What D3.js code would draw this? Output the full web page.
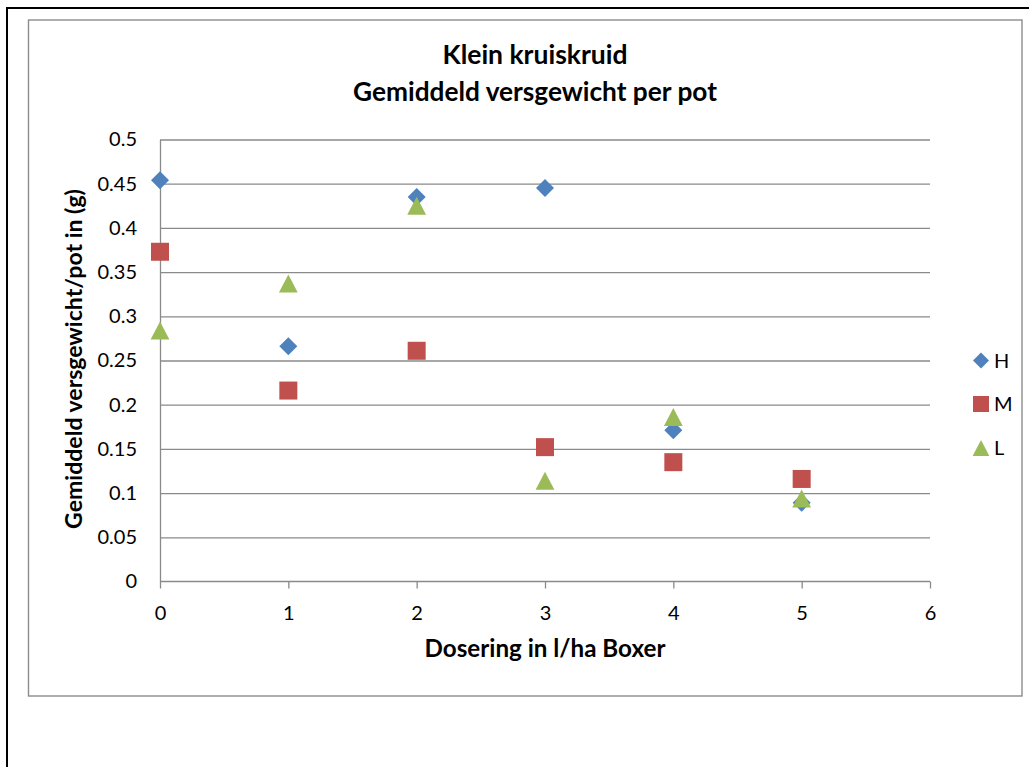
<!DOCTYPE html>
<html>
<head>
<meta charset="utf-8">
<script src="https://cdn.jsdelivr.net/npm/d3@7"></script>
<style>
  html, body { margin: 0; padding: 0; background: #fff; }
  svg { display: block; }
  text { font-family: Lato, "Open Sans", sans-serif; fill: #000; }
</style>
</head>
<body>
<svg id="chart" width="1029" height="767"></svg>
<script>
// ---- data ----
const doses = [0, 1, 2, 3, 4, 5];
const seriesNames = ["H", "M", "L"];
const valuesH = [0.454, 0.266, 0.435, 0.445, 0.171, 0.089];
const valuesM = [0.373, 0.216, 0.261, 0.152, 0.135, 0.116];
const valuesL = [0.284, 0.337, 0.425, 0.114, 0.186, 0.094];
const xTicks = [0, 1, 2, 3, 4, 5, 6];
const yTicks = [0, 0.05, 0.1, 0.15, 0.2, 0.25, 0.3, 0.35, 0.4, 0.45, 0.5];
const yTickLabels = ["0", "0.05", "0.1", "0.15", "0.2", "0.25", "0.3", "0.35", "0.4", "0.45", "0.5"];
const titleLines = ["Klein kruiskruid", "Gemiddeld versgewicht per pot"];
const xTitle = "Dosering in l/ha Boxer";
const yTitle = "Gemiddeld versgewicht/pot in (g)";

const colors = { H: "#4F81BD", M: "#C0504D", L: "#9BBB59" };
const seriesValues = { H: valuesH, M: valuesM, L: valuesL };

const svg = d3.select("#chart");

// outer frame
svg.append("rect").attr("x", 7).attr("y", 8).attr("width", 1040).attr("height", 800)
  .attr("fill", "#fff").attr("stroke", "#000").attr("stroke-width", 2);
// chart area border
svg.append("rect").attr("x", 28.5).attr("y", 20).attr("width", 993.5).attr("height", 676)
  .attr("fill", "#fff").attr("stroke", "#8c8c8c").attr("stroke-width", 1.4);

const x = d3.scaleLinear().domain([0, 6]).range([160, 930]);
const y = d3.scaleLinear().domain([0, 0.5]).range([581.5, 139.5]);

const gridColor = "#8a8a8a";

// gridlines
const grid = svg.append("g").attr("transform", `translate(${x(0)},0)`)
  .call(d3.axisLeft(y).tickValues(yTicks.slice(1)).tickSize(-(x(6) - x(0))).tickFormat(""));
grid.select(".domain").remove();
grid.selectAll("line").attr("stroke", gridColor).attr("stroke-width", 1.3);

// y axis
const yAxis = svg.append("g").attr("transform", `translate(${x(0)},0)`)
  .call(d3.axisLeft(y).tickValues(yTicks).tickSize(0).tickPadding(23)
    .tickFormat((d, i) => yTickLabels[i]));
yAxis.select(".domain").attr("stroke", gridColor).attr("stroke-width", 1.3);
yAxis.selectAll("text").attr("font-size", 20).attr("font-family", "Lato, sans-serif").attr("fill", "#000");

// x axis
const xAxis = svg.append("g").attr("transform", `translate(0,${y(0)})`)
  .call(d3.axisBottom(x).tickValues(xTicks).tickSize(7).tickPadding(17).tickFormat(d3.format("d")));
xAxis.select(".domain").attr("stroke", gridColor).attr("stroke-width", 1.3)
  .attr("d", `M${x(0)},0H${x(6)}`);
xAxis.selectAll("line").attr("stroke", gridColor).attr("stroke-width", 1.3);
xAxis.selectAll("text").attr("font-size", 20).attr("font-family", "Lato, sans-serif").attr("fill", "#000");

// helper to fit text width
function fit(sel, target) {
  const w = sel.node().getComputedTextLength();
  const fs = parseFloat(sel.attr("font-size"));
  sel.attr("font-size", fs * target / w);
}

// titles
const t1 = svg.append("text").attr("x", 535).attr("y", 64).attr("text-anchor", "middle")
  .attr("font-weight", "bold").attr("font-size", 24).text(titleLines[0]);
fit(t1, 185);
const t2 = svg.append("text").attr("x", 535).attr("y", 101).attr("text-anchor", "middle")
  .attr("font-weight", "bold").attr("font-size", 24).text(titleLines[1]);
fit(t2, 364);

const xt = svg.append("text").attr("x", 545).attr("y", 657).attr("text-anchor", "middle")
  .attr("font-weight", "bold").attr("font-size", 20).text(xTitle);
fit(xt, 241);

const yt = svg.append("text").attr("transform", "translate(82,359) rotate(-90)")
  .attr("text-anchor", "middle").attr("font-weight", "bold").attr("font-size", 20).text(yTitle);
fit(yt, 340);

// marker shapes
function markerPath(name, s) {
  const h = s / 2;
  if (name === "H") return `M0,${-h}L${h},0L0,${h}L${-h},0Z`;
  if (name === "M") return `M${-h},${-h}H${h}V${h}H${-h}Z`;
  return `M0,${-h}L${h + 0.4},${h}L${-h - 0.4},${h}Z`;
}

// points
seriesNames.forEach(name => {
  svg.append("g").selectAll("path")
    .data(doses.map((d, i) => ({ x: d, y: seriesValues[name][i] })))
    .join("path")
    .attr("transform", d => `translate(${x(d.x)},${y(d.y)})`)
    .attr("d", markerPath(name, 18))
    .attr("fill", colors[name]);
});

// legend
const legendY = [360.5, 404, 448];
seriesNames.forEach((name, i) => {
  svg.append("path").attr("transform", `translate(981,${legendY[i]})`)
    .attr("d", markerPath(name, 16)).attr("fill", colors[name]);
  svg.append("text").attr("x", 994).attr("y", legendY[i]).attr("dy", "0.35em")
    .attr("font-size", 20).text(name);
});
</script>
</body>
</html>
